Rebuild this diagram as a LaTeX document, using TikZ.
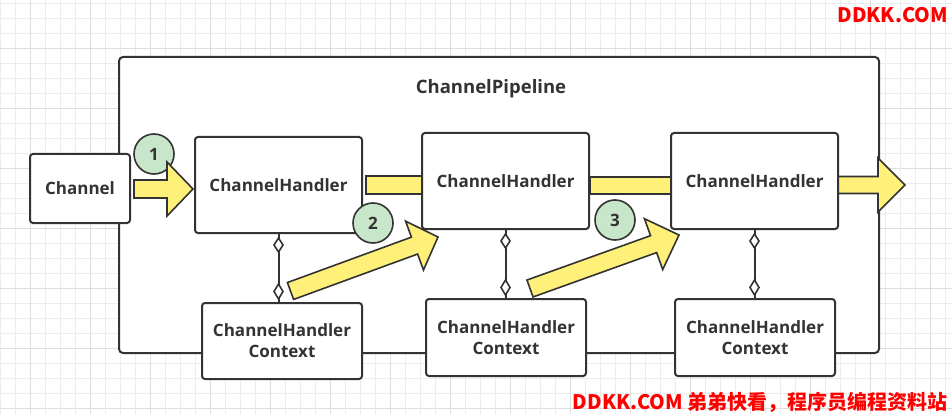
\documentclass[tikz,border=0pt]{standalone}
\usepackage{fontspec}
\setmainfont{Open Sans}
\newfontfamily\cjk{Noto Sans CJK SC}
\usetikzlibrary{calc,arrows.meta}
\definecolor{ink}{HTML}{333333}
\definecolor{fatyellow}{HTML}{FFF07A}
\definecolor{circgreen}{HTML}{C8E6C9}
\tikzset{
  box/.style={draw=ink, line width=2pt, rounded corners=3pt, fill=white, text=ink,
    font=\bfseries\fontsize{17}{21}\selectfont, align=center, inner sep=0pt},
  fat/.style={draw=ink, line width=1.6pt, fill=fatyellow, line join=miter},
  aggl/.style={draw=ink, line width=2pt},
  dia/.style={draw=ink, line width=1.6pt, fill=white, line join=miter},
  num/.style={circle, draw=ink, line width=1.6pt, fill=circgreen, minimum size=40pt, inner sep=0pt, text=ink, font=\bfseries\fontsize{17}{20}\selectfont},
  gridminor/.style={draw=black!7, line width=0.8pt},
  gridmajor/.style={draw=black!13, line width=0.8pt},
  wmark/.style={text=red, font=\cjk\bfseries\fontsize{20}{24}\selectfont, inner sep=0pt}
}
\newcommand\fatarrow[5]{%
  \coordinate (fa-h) at ($(#2)!#5!(#1)$);
  \draw[fat] ($(#1)!#3!90:(#2)$) -- ($(fa-h)!#3!90:(#2)$) -- ($(fa-h)!#4!90:(#2)$) -- (#2)
    -- ($(fa-h)!#4!-90:(#2)$) -- ($(fa-h)!#3!-90:(#2)$) -- ($(#1)!#3!-90:(#2)$) -- cycle;}
\newcommand\aggline[2]{%
  \coordinate (ag-b) at (#1 |- #2);
  \draw[aggl] (#1) -- (ag-b);
  \draw[dia] ($(#1)+(0,4)$) -- ++(4.5,7) -- ++(-4.5,7) -- ++(-4.5,-7) -- cycle;
  \draw[dia] ($(ag-b)+(0,-3)$) -- ++(4.5,-7.5) -- ++(-4.5,-7.5) -- ++(-4.5,7.5) -- cycle;}
\begin{document}
\begin{tikzpicture}[x=1pt,y=-1pt]
\useasboundingbox (0,0) rectangle (952,414);
\fill[white] (0,0) rectangle (952,414);
% background grid
\foreach \x in {0,15,...,945} \draw[gridminor] (\x,0) -- (\x,414);
\foreach \y in {3,18,...,414} \draw[gridminor] (0,\y) -- (952,\y);
\foreach \x in {30,90,...,945} \draw[gridmajor] (\x,0) -- (\x,414);
\foreach \y in {48,108,...,414} \draw[gridmajor] (0,\y) -- (952,\y);
% pipeline container
\node[draw=ink, line width=2pt, rounded corners=4pt, fill=white, minimum width=760pt, minimum height=296pt, inner sep=0pt] (pipe) at (499,205) {};
\node[text=ink, font=\bfseries\fontsize{18.5}{22}\selectfont] (title) at (491,89) {ChannelPipeline};
% node positions
\coordinate (h1c) at (278.5,185);
\coordinate (h2c) at (505.5,181);
\coordinate (h3c) at (754.5,181);
% bands between handlers (drawn under the boxes)
\coordinate (b1s) at (366,185);
\coordinate (b1e) at (430,185);
\draw[fat] ($(b1s)+(0,-9)$) rectangle ($(b1e)+(0,9)$);
\coordinate (b2s) at (590,185.5);
\coordinate (b2e) at (680,185.5);
\draw[fat] ($(b2s)+(0,-8.5)$) rectangle ($(b2e)+(0,8.5)$);
\coordinate (o1s) at (830,185);
\coordinate (o1t) at (905,185);
\fatarrow{o1s}{o1t}{8.5pt}{27pt}{27pt}
% boxes
\node[box, minimum width=100pt, minimum height=69pt] (ch) at (80,188.5) {Channel};
\node[box, minimum width=167pt, minimum height=96pt] (h1) at (h1c) {ChannelHandler};
\node[box, minimum width=167pt, minimum height=96pt] (h2) at (h2c) {ChannelHandler};
\node[box, minimum width=167pt, minimum height=96pt] (h3) at (h3c) {ChannelHandler};
\node[box, minimum width=160pt, minimum height=76pt] (c1) at (282,341) {ChannelHandler\\Context};
\node[box, minimum width=160pt, minimum height=77pt] (c2) at (506,337.5) {ChannelHandler\\Context};
\node[box, minimum width=160pt, minimum height=77pt] (c3) at (755,337.5) {ChannelHandler\\Context};
% aggregation connectors
\aggline{h1.south}{c1.north}
\aggline{h2.south}{c2.north}
\aggline{h3.south}{c3.north}
% step numbers
\node[num] (n1) at (154,154) {1};
\node[num] (n2) at (373,223) {2};
\node[num] (n3) at (615,220) {3};
% fat arrows
\coordinate (a1s) at ($(ch.east)+(3,0.5)$);
\coordinate (a1t) at ($(h1.west)+(-1,4)$);
\fatarrow{a1s}{a1t}{9pt}{27pt}{26pt}
\coordinate (a2s) at (290.5,291);
\coordinate (a2t) at (438,237);
\fatarrow{a2s}{a2t}{9pt}{26pt}{25pt}
\coordinate (a3s) at (530,288.5);
\coordinate (a3t) at (679,235);
\fatarrow{a3s}{a3t}{9pt}{27pt}{27pt}
% watermarks
\node[wmark, anchor=east] (wm1) at (948,15) {DDKK.COM};
\node[wmark, anchor=east] (wm2) at (948,402) {DDKK.COM 弟弟快看，程序员编程资料站};
\end{tikzpicture}
\end{document}
